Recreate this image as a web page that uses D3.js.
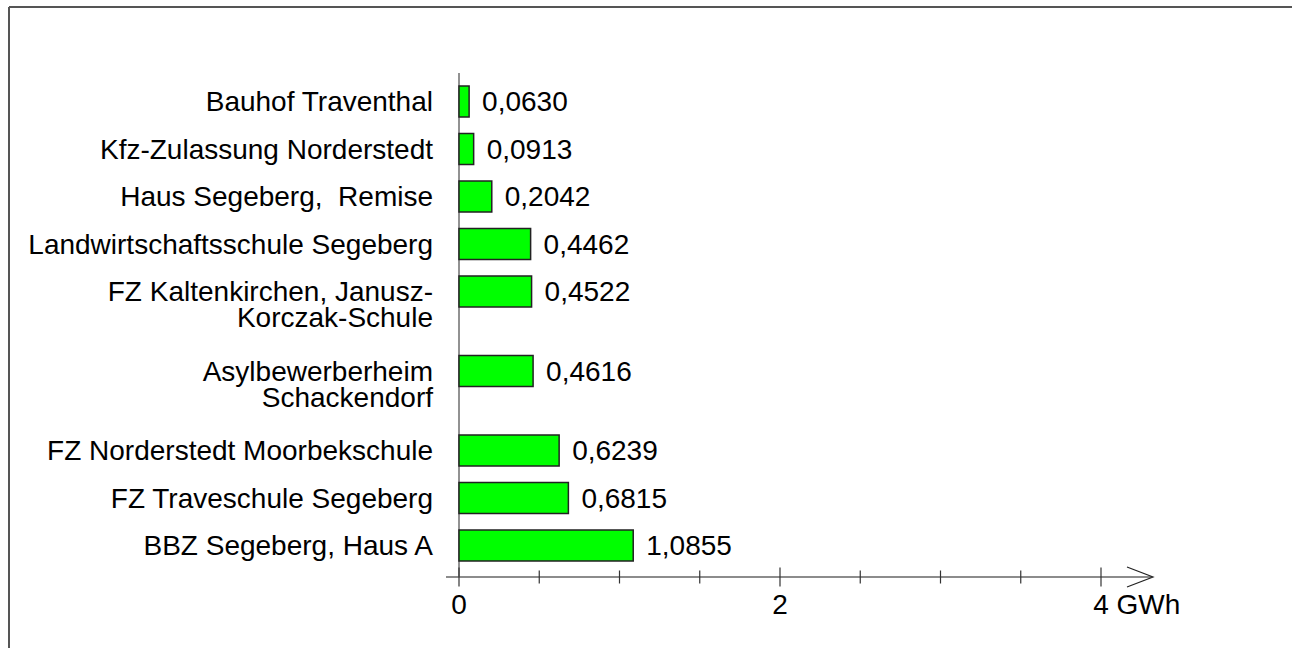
<!DOCTYPE html>
<html><head><meta charset="utf-8">
<script src="https://cdn.jsdelivr.net/npm/d3@7"></script>
<style>
html,body{margin:0;padding:0;background:#fff;}
svg{display:block;}
text{font-family:"Liberation Sans",Arial,Helvetica,sans-serif;fill:#000;white-space:pre;}
</style></head>
<body>
<svg id="chart" width="1292" height="648"></svg>
<script>
const categories = [
  ["Bauhof Traventhal"],
  ["Kfz-Zulassung Norderstedt"],
  ["Haus Segeberg,  Remise"],
  ["Landwirtschaftsschule Segeberg"],
  ["FZ Kaltenkirchen, Janusz-", "Korczak-Schule"],
  ["Asylbewerberheim", "Schackendorf"],
  ["FZ Norderstedt Moorbekschule"],
  ["FZ Traveschule Segeberg"],
  ["BBZ Segeberg, Haus A"]
];
const values = [0.0630, 0.0913, 0.2042, 0.4462, 0.4522, 0.4616, 0.6239, 0.6815, 1.0855];
const valueLabels = ["0,0630", "0,0913", "0,2042", "0,4462", "0,4522", "0,4616", "0,6239", "0,6815", "1,0855"];
const xTicks = [0, 0.5, 1, 1.5, 2, 2.5, 3, 3.5, 4];
const xTickLabels = {0: "0", 2: "2", 4: "4"};
const unitLabel = "GWh";

const FS = 28;
const svg = d3.select("#chart");

// frame
svg.append("line").attr("x1", 9).attr("y1", 7).attr("x2", 1292).attr("y2", 7)
  .attr("stroke", "#555").attr("stroke-width", 2);
svg.append("line").attr("x1", 9).attr("y1", 7).attr("x2", 9).attr("y2", 648)
  .attr("stroke", "#555").attr("stroke-width", 2);

const x = d3.scaleLinear().domain([0, 4]).range([459, 1101]);

// row positions: single-line rows take one unit, extra lines add part of a unit
const extraPerLine = 32 / 47.5;
let acc = 0;
const rowPos = categories.map(c => { const p = acc; acc += 1 + (c.length - 1) * extraPerLine; return p; });
const y = d3.scaleLinear().domain([0, 1]).range([86, 86 + 47.5]);
const barH = 31;
const axisY = 577;

// vertical axis
svg.append("line").attr("x1", x(0)).attr("x2", x(0)).attr("y1", 73).attr("y2", axisY)
  .attr("stroke", "#777").attr("stroke-width", 1.6);

// bars
svg.selectAll("rect.bar").data(values).enter().append("rect")
  .attr("class", "bar")
  .attr("x", x(0))
  .attr("y", (d, i) => y(rowPos[i]))
  .attr("width", d => x(d) - x(0))
  .attr("height", barH)
  .attr("fill", "#00ff00")
  .attr("stroke", "#222")
  .attr("stroke-width", 1.5);

// value labels
svg.selectAll("text.val").data(values).enter().append("text")
  .attr("class", "val")
  .attr("x", d => x(d) + 13)
  .attr("y", (d, i) => y(rowPos[i]) + barH / 2)
  .attr("dy", "0.35em")
  .attr("font-size", FS)
  .text((d, i) => valueLabels[i]);

// category labels
categories.forEach((lines, i) => {
  const t = svg.append("text")
    .attr("x", 433)
    .attr("y", y(rowPos[i]) + barH / 2)
    .attr("text-anchor", "end")
    .attr("font-size", FS);
  lines.forEach((ln, j) => {
    t.append("tspan").attr("x", 433).attr("dy", j === 0 ? "0.35em" : 26).text(ln);
  });
});

// x axis
const axisG = svg.append("g");
axisG.append("line").attr("x1", 446).attr("x2", 1152).attr("y1", axisY).attr("y2", axisY)
  .attr("stroke", "#666").attr("stroke-width", 1.6);
axisG.append("polyline")
  .attr("points", [[1127, axisY - 10], [1153, axisY], [1127, axisY + 10]].map(p => p.join(",")).join(" "))
  .attr("fill", "none").attr("stroke", "#222").attr("stroke-width", 1.2);
axisG.selectAll("line.tick").data(xTicks).enter().append("line")
  .attr("class", "tick")
  .attr("x1", d => x(d)).attr("x2", d => x(d))
  .attr("y1", d => axisY - ((d % 2 === 0) ? 9.5 : 6.5))
  .attr("y2", d => axisY + ((d % 2 === 0) ? 9.5 : 6.5))
  .attr("stroke", "#333").attr("stroke-width", 1.2);

xTicks.filter(d => xTickLabels[d] !== undefined).forEach(d => {
  const isLast = d === 4;
  const t = axisG.append("text").attr("y", 614).attr("font-size", FS).text(xTickLabels[d]);
  if (!isLast) {
    t.attr("x", x(d)).attr("text-anchor", "middle");
  } else {
    const w = t.node().getComputedTextLength();
    t.attr("x", x(d) - w / 2).text(xTickLabels[d] + " " + unitLabel);
  }
});
</script>
</body></html>
